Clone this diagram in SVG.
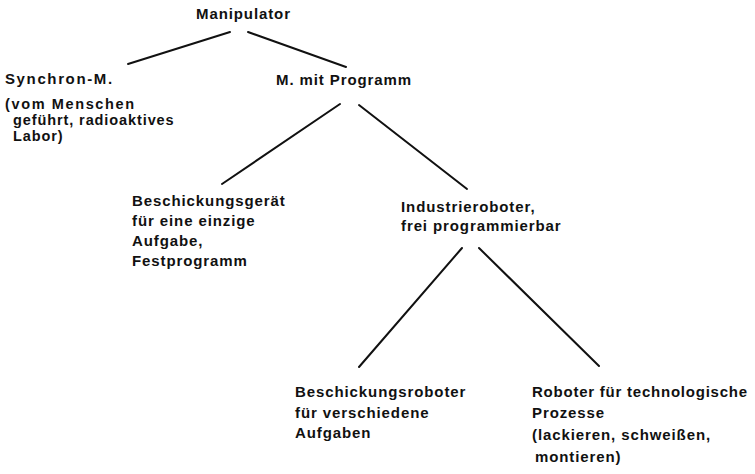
<svg xmlns="http://www.w3.org/2000/svg" width="755" height="474" viewBox="0 0 755 474">
  <style>
    .lbl { font-family: "Liberation Sans", Arial, sans-serif; font-size: 15px; font-weight: bold; fill: #111; letter-spacing: 0.9px; }
    .tight { font-size: 14.5px; }
    .edge { stroke: #111; stroke-width: 2; fill: none; stroke-linecap: round; }
  </style>
  <rect width="755" height="474" fill="#fff"/>

  <g id="connectors">
    <line class="edge" x1="230" y1="32" x2="128" y2="64"/>
    <line class="edge" x1="248" y1="32" x2="346" y2="67"/>
    <line class="edge" x1="340" y1="104" x2="222" y2="184"/>
    <line class="edge" x1="359" y1="105" x2="467" y2="189"/>
    <line class="edge" x1="462" y1="248" x2="359" y2="367"/>
    <line class="edge" x1="479" y1="248" x2="599" y2="366"/>
  </g>

  <g id="manipulator">
    <text class="lbl" x="196" y="19">Manipulator</text>
  </g>

  <g id="synchron">
    <text class="lbl" x="5" y="84" textLength="108">Synchron-M.</text>
    <text class="lbl tight" x="5" y="109" textLength="130">(vom Menschen</text>
    <text class="lbl tight" x="13" y="125">geführt, radioaktives</text>
    <text class="lbl tight" x="13" y="141">Labor)</text>
  </g>

  <g id="programm">
    <text class="lbl" x="276" y="85">M. mit Programm</text>
  </g>

  <g id="beschickungsgeraet">
    <text class="lbl" x="132" y="206">Beschickungsgerät</text>
    <text class="lbl" x="132" y="226">für eine einzige</text>
    <text class="lbl" x="132" y="246">Aufgabe,</text>
    <text class="lbl" x="132" y="266">Festprogramm</text>
  </g>

  <g id="industrieroboter">
    <text class="lbl" x="401" y="212">Industrieroboter,</text>
    <text class="lbl" x="401" y="231">frei programmierbar</text>
  </g>

  <g id="beschickungsroboter">
    <text class="lbl" x="295" y="397">Beschickungsroboter</text>
    <text class="lbl" x="295" y="418">für verschiedene</text>
    <text class="lbl" x="295" y="438">Aufgaben</text>
  </g>

  <g id="prozessroboter">
    <text class="lbl" x="532" y="397" textLength="216">Roboter für technologische</text>
    <text class="lbl" x="532" y="418">Prozesse</text>
    <text class="lbl" x="532" y="440">(lackieren, schweißen,</text>
    <text class="lbl" x="535" y="462">montieren)</text>
  </g>
</svg>
